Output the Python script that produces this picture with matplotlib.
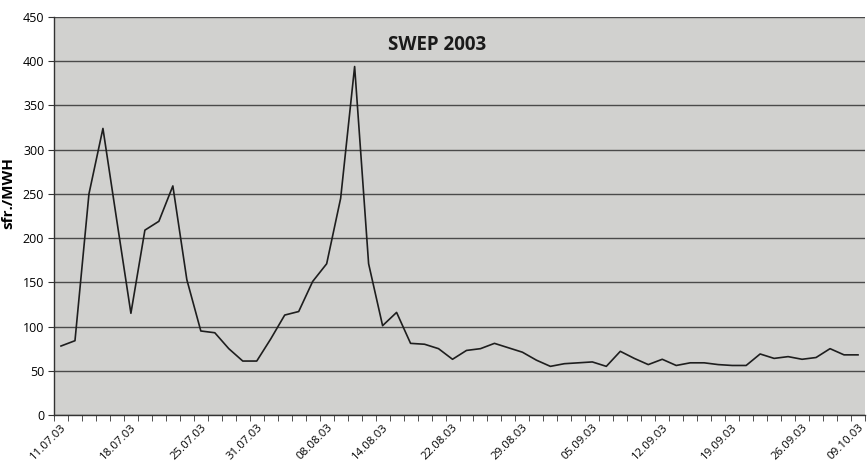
import matplotlib.pyplot as plt
import matplotlib.transforms as mtransforms
import numpy as np

# daily SWEP price, sfr./MWh, one value per trading day
prices = [78, 84, 250, 324, 219, 115, 209, 219, 259, 153,
          95, 93, 75, 61, 61, 86, 113, 117, 151, 171,
          245, 394, 171, 101, 116, 81, 80, 75, 63, 73,
          75, 81, 76, 71, 62, 55, 58, 59, 60, 55,
          72, 64, 57, 63, 56, 59, 59, 57, 56, 56,
          69, 64, 66, 63, 65, 75, 68, 68]
label_days = [0, 5, 10, 14, 19, 23, 28, 33, 38, 43, 48, 53, 57]
date_labels = ["11.07.03", "18.07.03", "25.07.03", "31.07.03", "08.08.03",
               "14.08.03", "22.08.03", "29.08.03", "05.09.03", "12.09.03",
               "19.09.03", "26.09.03", "09.10.03"]

plt.rcParams["font.family"] = ["Open Sans", "DejaVu Sans"]

fig = plt.figure(figsize=(8.67, 4.65), dpi=100)
ax = fig.add_axes([54 / 867, 1 - 415 / 465, 811 / 867, 398 / 465])
ax.set_facecolor("#d1d1cf")

x = np.arange(len(prices))
ax.plot(x, prices, color="#1e1e1e", linewidth=1.2, zorder=3)

ax.set_xlim(-0.5, len(prices) - 0.5)
ax.set_ylim(0, 450)
ax.set_yticks(np.arange(0, 451, 50))
ax.grid(axis="y", color="#4a4a4a", linewidth=1.0)
ax.set_axisbelow(True)

ax.set_xticks(np.arange(-0.5, len(prices), 1), minor=True)
ax.set_xticks(label_days)
ax.set_xticklabels(date_labels, rotation=45, ha="right", rotation_mode="anchor", fontsize=8.2)
shift = mtransforms.ScaledTranslation(-3 / 100, 0, fig.dpi_scale_trans)
for lbl in ax.get_xticklabels():
    lbl.set_transform(lbl.get_transform() + shift)
ax.tick_params(axis="x", which="major", length=0, pad=5)
ax.tick_params(axis="x", which="minor", length=4, color="#333333")
ax.tick_params(axis="y", length=4, color="#333333", labelsize=9, pad=3)

for side in ["top", "right"]:
    ax.spines[side].set_visible(False)
for side in ["left", "bottom"]:
    ax.spines[side].set_color("#333333")
    ax.spines[side].set_linewidth(1.0)

ax.set_ylabel("sfr./MWH", fontsize=11, fontweight="bold")
ax.yaxis.set_label_coords(-0.048, 0.558)
ax.text(0.472, 0.93, "SWEP 2003", transform=ax.transAxes, ha="center", va="center",
        fontsize=13.5, fontweight="bold", color="#1a1a1a")

fig.savefig("out.png", dpi=100)
